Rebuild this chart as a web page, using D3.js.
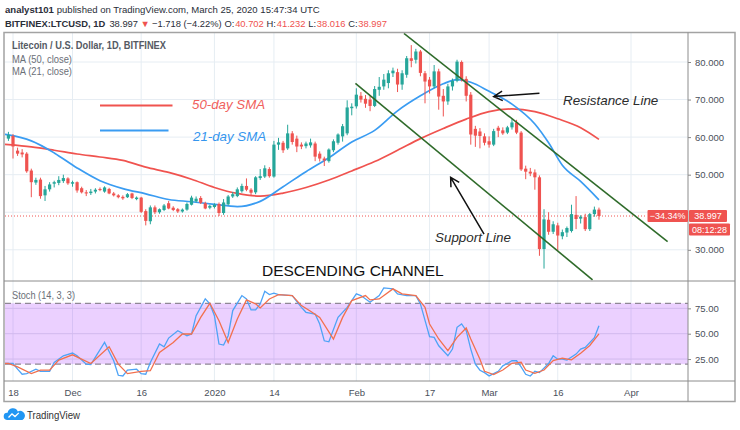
<!DOCTYPE html>
<html><head><meta charset="utf-8">
<script src="https://cdn.jsdelivr.net/npm/d3@7/dist/d3.min.js"></script>
<style>
body{margin:0;background:#fff}
svg{display:block}
text{font-family:"Liberation Sans",Arial,sans-serif}
</style></head>
<body><svg id="chart" width="740" height="430"></svg>
<script>
// ---------------- DATA ----------------
const startDay = Date.UTC(2019, 10, 17); // first candle: 17 Nov 2019, one candle per day
const opens = [59.6,60.3,56.4,55.9,55.6,51.1,47.9,48.7,44.5,46.1,
47.6,47.8,48.3,49.0,47.6,48.0,46.4,45.3,45.1,45.5,
46.2,45.5,46.2,45.0,44.5,44.1,44.0,45.0,43.5,43.9,
40.3,37.6,41.3,40.0,40.6,42.4,41.2,40.8,40.2,40.7,
42.0,42.9,43.8,42.4,41.2,41.4,42.2,39.8,42.1,44.2,
44.3,45.6,47.0,46.0,45.3,49.1,49.5,51.5,49.5,58.0,
58.5,57.0,61.0,59.6,58.0,57.6,57.8,58.3,55.6,54.3,
53.6,56.5,58.5,60.2,61.0,67.7,68.2,71.0,70.2,70.0,
68.3,72.6,73.5,74.4,77.0,77.3,74.0,76.6,81.0,80.6,
82.8,77.0,75.3,73.5,77.5,71.0,69.5,73.5,75.0,80.0,
75.5,71.3,62.2,61.5,60.2,58.9,58.0,62.5,61.8,61.2,
62.6,63.9,61.2,51.6,50.8,50.6,49.3,30.2,38.0,34.8,
36.5,33.6,34.6,35.0,39.3,38.3,38.7,35.5,39.5,40.702];
const highs = [61.4,60.8,57.2,56.8,56.0,51.6,49.2,49.2,47.0,48.0,
48.4,49.6,50.0,49.3,48.4,48.2,46.8,45.9,46.2,46.4,
46.6,46.9,46.5,45.4,44.8,44.5,45.1,45.2,44.2,44.1,
40.8,41.8,41.8,41.0,42.2,43.0,41.6,41.1,41.0,42.6,
44.4,44.2,44.3,42.8,42.0,42.4,42.6,43.5,44.6,45.4,
46.6,47.6,49.0,46.4,49.6,51.5,52.5,52.0,59.0,59.8,
59.0,63.3,61.6,60.4,58.6,58.8,59.6,58.8,56.2,54.8,
57.0,59.4,61.0,63.5,69.8,69.0,73.0,72.0,71.2,71.0,
73.6,76.0,76.8,77.8,78.5,78.2,77.8,81.6,84.5,83.5,
83.2,77.6,76.0,79.2,78.2,72.8,74.2,75.6,80.6,80.4,
76.2,72.0,63.0,62.4,61.0,60.2,62.2,63.0,62.6,63.0,
64.8,64.6,61.6,52.4,51.8,51.4,49.8,40.8,40.0,37.6,
37.2,35.4,36.2,42.0,44.3,39.2,39.6,39.8,41.5,41.232];
const lows = [59.0,54.3,55.0,54.6,50.5,44.0,47.3,43.6,43.0,45.5,
46.6,47.2,47.8,47.3,46.8,45.2,45.0,44.3,44.6,45.0,
45.6,45.2,44.8,44.2,43.7,43.3,43.8,43.5,43.2,39.8,
36.5,36.8,39.5,39.6,40.3,40.8,40.3,39.8,39.9,40.4,
41.8,42.6,42.2,40.8,40.8,41.0,39.0,39.3,41.8,43.8,
44.0,45.2,45.6,44.5,44.8,48.6,49.1,49.2,49.2,56.6,
55.8,56.6,58.0,56.0,56.8,57.0,57.2,53.6,53.5,52.3,
53.2,56.0,58.0,58.8,60.5,65.8,67.6,69.2,67.8,66.9,
68.0,71.0,72.6,73.0,76.0,72.0,72.6,75.8,78.6,79.6,
76.2,69.0,71.6,73.0,67.3,65.5,68.6,72.4,74.6,74.8,
69.5,58.0,57.4,57.0,57.8,57.2,57.6,60.0,60.6,60.8,
62.0,60.8,51.0,48.8,49.6,46.0,28.4,25.0,34.0,34.2,
29.7,32.8,33.4,34.6,35.5,37.0,35.0,35.0,38.8,38.016];
const closes = [60.6,57.5,55.6,55.4,50.9,48.0,48.6,44.3,46.1,47.4,
48.0,48.6,49.1,47.7,48.0,45.8,45.3,45.0,45.5,46.0,
45.9,46.6,45.0,44.5,44.0,43.7,44.8,43.8,43.9,40.1,
37.7,41.3,40.0,40.8,41.8,41.0,40.6,40.2,40.7,42.2,
43.9,43.6,42.5,41.0,41.7,42.0,39.8,42.6,44.2,44.8,
46.1,47.0,46.0,45.2,49.3,49.6,51.7,49.6,58.0,58.6,
56.5,61.0,58.7,57.5,57.5,58.3,58.6,54.8,54.3,53.8,
56.7,58.9,60.7,62.9,67.9,68.1,71.3,70.0,68.9,68.3,
72.8,73.4,75.3,77.0,77.7,74.0,77.0,81.0,80.3,82.8,
77.1,74.8,73.5,77.5,70.8,69.5,73.5,75.0,80.1,75.5,
71.0,60.7,60.4,60.3,58.5,58.0,61.6,61.7,61.0,62.6,
63.9,61.2,51.4,50.8,50.3,49.3,30.2,38.1,34.8,36.8,
33.8,34.7,35.8,39.5,38.2,38.8,35.5,39.5,40.7,38.997];

// moving averages (day offset from first candle, value)
const ma50Days = [-1,0,5,10,15,20,25,30,35,40,45,50,55,60,65,70,75,80,85,90,95,100,105,110,115,120,125,129];
const ma50Vals = [58.1,58.0,57.4,56.5,55.5,54.7,53.8,52.0,50.6,48.8,46.6,45.0,44.3,45.1,46.6,48.6,51.0,53.5,56.5,59.6,62.3,64.8,66.8,67.5,66.8,64.9,62.5,59.4];
const ma21Days = [-1,0,5,10,15,20,25,30,35,40,45,50,55,60,65,70,75,80,85,90,95,98,101,105,110,115,118,121,125,129];
const ma21Vals = [60.8,60.6,59.0,55.8,51.8,48.4,46.3,44.9,43.4,42.8,42.1,41.5,42.9,46.8,50.8,54.5,58.7,61.8,67.0,71.0,74.2,75.3,74.6,72.2,68.8,63.5,58.5,52.5,48.2,43.3];

// stochastic %K and %D
const kDays = [-1,0,1,2,3,4,6,7,9,10,12,14,15,17,18,21,23,24,25,26,28,29,30,31,33,34,35,37,39,40,41,43,44,45,46,47,48,49,51,52,53,54,55,56,57,58,59,62,64,65,67,68,69,70,72,74,76,77,79,81,82,84,85,87,89,90,92,93,94,96,97,98,99,100,101,102,103,104,105,107,108,110,111,112,113,114,115,116,118,119,120,121,122,124,125,126,128,129];
const kVals = [20.6,20.6,20.6,15,10,10.6,15,12.9,12.9,21.6,28.2,30.9,28.2,20,19.6,41.4,23.3,9,8.3,14,15,10.6,10,21.6,39.8,37.1,45.7,53,48,49.7,67.8,84.3,79.4,67.8,39.8,38.8,48,72.8,87.6,84.3,73.4,73.4,79.4,91.9,88.6,89.9,88.6,87.6,76,71.1,69.4,59.6,43,42,66.1,76,89.3,87.6,81,87.6,95.2,94.2,89.3,87.6,87.6,79.4,47,46.4,38.1,28.2,34.8,56.3,59.6,53,34.8,20,14,11.6,8.4,12.9,18.3,23.3,23.3,17.3,10,8.3,12.9,11.6,20.6,28.2,24.9,24.9,23.9,29.9,34.8,36.5,46,57.9];
const dDays = [-1,0,2,5,7,9,11,14,18,22,24,26,29,31,33,36,38,40,42,44,46,48,50,52,54,55,57,59,62,64,66,68,71,73,75,78,79,81,84,86,89,91,92,94,96,98,100,101,103,104,106,108,110,112,113,115,117,119,121,123,125,127,129];
const dVals = [20.6,20.6,17.3,10.6,14,14,23.9,29.2,20.6,37.1,20,10.6,12.9,13.5,31.6,41.4,49.7,49.7,66.1,80,62.8,41.4,64.5,83.3,79.4,75.4,84.3,88.6,87.6,77.7,72.1,66.1,44.7,66.1,82.6,87.6,83.3,84.3,94.2,89.3,87.6,76,59.6,44.8,33.2,46.4,55.6,44.8,24.9,12.9,9.6,14.2,20.8,21.8,14.2,10.9,14.2,23.5,25.8,24.2,30.8,38.4,49.9];

// axis ticks
const priceGrid = [30, 40, 50, 60, 70, 80];
const priceLabels = [30, 50, 60, 70, 80]; // 40 is hidden behind the last-price tag
const stochTicks = [25, 50, 75];
const timeTickDates = ["2019-11-18","2019-12-01","2019-12-16","2020-01-01","2020-01-14","2020-02-01","2020-02-17","2020-03-01","2020-03-16","2020-04-01"];
const timeTickLabels = ["18","Dec","16","2020","14","Feb","17","Mar","16","Apr"];

// drawn annotations, in (day offset, price)
const resistanceLine = [[86.4, 87.6], [144.0, 32.2]];
const supportLine = [[75.8, 74.3], [127.6, 22.0]];
const resistanceArrow = [[116.0, 71.7], [106.0, 70.8]];
const supportArrow = [[103.9, 34.2], [96.6, 49.3]];
const lastPrice = 38.997;

// ---------------- CHART ----------------
const svg = d3.select("#chart");
const GREEN = "#26a69a", RED = "#ef5350";
const L = 5, R = 688, MT = 33, MB = 281, SB = 381;

const x = d3.scaleUtc()
  .domain([new Date(Date.UTC(2019,10,18)), new Date(Date.UTC(2020,3,1))])
  .range([13, 631]);
const xd = d => x(new Date(startDay + d * 864e5));
const y = d3.scaleLinear().domain([30, 80]).range([249.8, 62]);
const ys = d3.scaleLinear().domain([25, 75]).range([359.05, 308.35]);

const defs = svg.append("defs");
defs.append("clipPath").attr("id","cm").append("rect").attr("x",L).attr("y",MT).attr("width",R-L).attr("height",MB-MT);
defs.append("clipPath").attr("id","cs").append("rect").attr("x",L).attr("y",MB).attr("width",R-L).attr("height",SB-MB);

// grid
const grid = svg.append("g");
const tDates = timeTickDates.map(s => new Date(s + "T00:00:00Z"));
grid.selectAll("line.v").data(tDates).join("line")
  .attr("x1", d => x(d)).attr("x2", d => x(d)).attr("y1", MT).attr("y2", SB)
  .attr("stroke", "#e6edf3").attr("stroke-width", 1);
grid.selectAll("line.h").data(priceGrid).join("line")
  .attr("x1", L).attr("x2", R).attr("y1", d => y(d)).attr("y2", d => y(d))
  .attr("stroke", "#e6edf3");
grid.selectAll("line.hs").data(stochTicks).join("line")
  .attr("x1", L).attr("x2", R).attr("y1", d => ys(d)).attr("y2", d => ys(d))
  .attr("stroke", "#dfe3ea");

// stochastic band
const st = svg.append("g").attr("clip-path","url(#cs)");
st.append("rect").attr("x", L).attr("width", R-L).attr("y", ys(80)).attr("height", ys(20)-ys(80))
  .attr("fill", "#9915ff").attr("fill-opacity", 0.2);
[80, 20].forEach(v => st.append("line").attr("x1", L).attr("x2", R).attr("y1", ys(v)).attr("y2", ys(v))
  .attr("stroke", "#8f8796").attr("stroke-width", 1.3).attr("stroke-dasharray", "6,4"));
const sline = d3.line().x(d => xd(d[0])).y(d => ys(d[1]));
st.append("path").datum(kDays.map((d,i)=>[d,kVals[i]])).attr("d", sline)
  .attr("fill","none").attr("stroke","#4ea3f6").attr("stroke-width",1.3);
st.append("path").datum(dDays.map((d,i)=>[d,dVals[i]])).attr("d", sline)
  .attr("fill","none").attr("stroke","#f2704e").attr("stroke-width",1.3);

// main panel
const mp = svg.append("g").attr("clip-path","url(#cm)");
const mline = d3.line().x(d => xd(d[0])).y(d => y(d[1])).curve(d3.curveMonotoneX);
mp.append("path").datum(ma50Days.map((d,i)=>[d,ma50Vals[i]])).attr("d", mline)
  .attr("fill","none").attr("stroke","#f0534f").attr("stroke-width",1.7);
mp.append("path").datum(ma21Days.map((d,i)=>[d,ma21Vals[i]])).attr("d", mline)
  .attr("fill","none").attr("stroke","#3a9cf2").attr("stroke-width",1.7);

// last price dotted line
mp.append("line").attr("x1", L).attr("x2", 647).attr("y1", y(lastPrice)).attr("y2", y(lastPrice))
  .attr("stroke", RED).attr("stroke-width", 1).attr("stroke-dasharray", "1,2");

const idx = d3.range(opens.length);
const col = i => closes[i] >= opens[i] ? GREEN : RED;
mp.selectAll("line.wick").data(idx).join("line")
  .attr("x1", i => xd(i)).attr("x2", i => xd(i))
  .attr("y1", i => y(highs[i])).attr("y2", i => y(lows[i]))
  .attr("stroke", col).attr("stroke-width", 1);
mp.selectAll("rect.body").data(idx).join("rect")
  .attr("x", i => xd(i) - 1.6).attr("width", 3.2)
  .attr("y", i => y(Math.max(opens[i], closes[i])))
  .attr("height", i => Math.max(1, Math.abs(y(opens[i]) - y(closes[i]))))
  .attr("fill", col);

// channel lines
const pl = d3.line().x(d => xd(d[0])).y(d => y(d[1]));
[resistanceLine, supportLine].forEach(pts => mp.append("path").attr("d", pl(pts))
  .attr("stroke", "#2f6b2a").attr("stroke-width", 1.6).attr("fill", "none"));

// arrows
function arrow(pts) {
  const [x1, y1] = [xd(pts[0][0]), y(pts[0][1])];
  const [x2, y2] = [xd(pts[1][0]), y(pts[1][1])];
  const a = Math.atan2(y2 - y1, x2 - x1);
  const h = 10, s = 0.5;
  const p = d3.path();
  p.moveTo(x1, y1); p.lineTo(x2, y2);
  p.moveTo(x2 - h * Math.cos(a - s), y2 - h * Math.sin(a - s));
  p.lineTo(x2, y2);
  p.lineTo(x2 - h * Math.cos(a + s), y2 - h * Math.sin(a + s));
  mp.append("path").attr("d", p.toString()).attr("fill","none").attr("stroke","#111").attr("stroke-width",1.5);
}
arrow(resistanceArrow); arrow(supportArrow);

// annotation texts
svg.append("text").attr("x", 563).attr("y", 105).text("Resistance Line")
  .attr("font-size", 13.4).attr("font-style","italic").attr("fill","#2b2b2b");
svg.append("text").attr("x", 435).attr("y", 242).text("Support Line")
  .attr("font-size", 13.4).attr("font-style","italic").attr("fill","#2b2b2b");
svg.append("text").attr("x", 262).attr("y", 276).text("DESCENDING CHANNEL")
  .attr("font-size", 15.5).attr("fill","#111");

// SMA legend
svg.append("line").attr("x1",100).attr("x2",172.5).attr("y1",105.5).attr("y2",105.5).attr("stroke","#f0534f").attr("stroke-width",1.8);
svg.append("line").attr("x1",100).attr("x2",168.5).attr("y1",130.5).attr("y2",130.5).attr("stroke","#3a9cf2").attr("stroke-width",1.8);
svg.append("text").attr("x",192).attr("y",109).text("50-day SMA").attr("font-size",13.3).attr("font-style","italic").attr("fill","#f0605c");
svg.append("text").attr("x",193).attr("y",140.5).text("21-day SMA").attr("font-size",13.3).attr("font-style","italic").attr("fill","#3596ee");

// axes
const axP = svg.append("g").attr("transform", `translate(${R},0)`)
  .call(d3.axisRight(y).tickValues(priceLabels).tickFormat(d3.format(".3f")).tickSize(3).tickPadding(4));
const axS = svg.append("g").attr("transform", `translate(${R},0)`)
  .call(d3.axisRight(ys).tickValues(stochTicks).tickFormat(d3.format(".2f")).tickSize(3).tickPadding(4));
const axT = svg.append("g").attr("transform", `translate(0,${SB})`)
  .call(d3.axisBottom(x).tickValues(tDates).tickFormat((d,i) => timeTickLabels[i]).tickSize(0).tickPadding(8));
[axP, axS, axT].forEach(a => {
  a.select(".domain").remove();
  a.selectAll(".tick line").attr("stroke", "#8a8a8a");
  a.selectAll("text").attr("fill", "#4a4f5a").attr("font-size", 9.5)
    .attr("font-family", '"Liberation Sans",Arial,sans-serif');
});

// frame
const fr = svg.append("g").attr("fill","none");
fr.append("rect").attr("x",4).attr("y",32.5).attr("width",731).attr("height",369).attr("stroke","#a3a3a3").attr("stroke-width",1.5);
fr.append("line").attr("x1",R).attr("x2",R).attr("y1",32.5).attr("y2",401.5).attr("stroke","#8c8c8c");
fr.append("line").attr("x1",4).attr("x2",735).attr("y1",MB).attr("y2",MB).attr("stroke","#8c8c8c");
fr.append("line").attr("x1",4).attr("x2",735).attr("y1",SB).attr("y2",SB).attr("stroke","#8c8c8c");

// price label boxes
const yl = y(lastPrice);
svg.append("rect").attr("x",647.5).attr("y",yl-6).attr("width",40.5).attr("height",12).attr("rx",1).attr("fill",RED);
svg.append("rect").attr("x",689).attr("y",yl-6).attr("width",38).attr("height",12).attr("rx",1).attr("fill",RED);
svg.append("rect").attr("x",689).attr("y",yl+7.5).attr("width",41).attr("height",12).attr("rx",1).attr("fill",RED);
const bt = (tx, xx, yy) => svg.append("text").attr("x",xx).attr("y",yy).text(tx)
  .attr("fill","#fff").attr("font-size",9).attr("text-anchor","middle");
bt("\u221234.34%", 667.7, yl+3.3);
bt("38.997", 708, yl+3.3);
bt("08:12:28", 709.5, yl+16.8);

// header lines: separate texts chained by measured width, shrunk to fit the reference width
function chain(parts, x0, yb, target, size) {
  const fam = '"Liberation Sans Narrow","Liberation Sans",Arial,sans-serif';
  const els = parts.map(p => svg.append("text").attr("y", yb).attr("font-family", fam)
    .attr("fill", p.fill || "#2a2e39").attr("font-weight", p.bold ? "bold" : "normal").text(p.t));
  let fs = size;
  const lay = () => {
    let cx = x0;
    els.forEach((e, i) => {
      e.attr("font-size", fs).attr("x", cx);
      cx += e.node().getComputedTextLength() + (parts[i].gap || 0) * fs;
    });
    return cx - x0;
  };
  const w = lay();
  if (w > target) { fs = fs * target / w; lay(); }
}
chain([{t:"analyst101", bold:true, gap:0.3},
       {t:"published on TradingView.com, March 25, 2020 15:47:34 UTC"}], 5, 13, 315, 11.5);
chain([{t:"BITFINEX:LTCUSD, 1D", bold:true, gap:0.45},
       {t:"38.997", gap:0.25},
       {t:"\u25BC", fill:RED, gap:0.25},
       {t:"\u22121.718 (\u22124.22%)", gap:0.3},
       {t:"O:", gap:0.08}, {t:"40.702", fill:RED, gap:0.3},
       {t:"H:", gap:0.08}, {t:"41.232", fill:RED, gap:0.3},
       {t:"L:", gap:0.08}, {t:"38.016", fill:RED, gap:0.3},
       {t:"C:", gap:0.08}, {t:"38.997", fill:RED}], 5, 26.5, 382, 11.5);

const hdr = (tx, xx, yy, tl, opt = {}) => svg.append("text").attr("x",xx).attr("y",yy).text(tx)
  .attr("font-size", opt.size || 12).attr("font-weight", opt.bold ? "bold" : "normal")
  .attr("fill", opt.fill || "#2a2e39").attr("textLength", tl).attr("lengthAdjust","spacingAndGlyphs");

// panel titles
hdr("Litecoin / U.S. Dollar, 1D, BITFINEX", 12, 49, 154, {size:11, bold:true, fill:"#555a63"});
hdr("MA (50, close)", 12, 62.5, 60, {size:11, fill:"#6b6f77"});
hdr("MA (21, close)", 12, 75, 60, {size:11, fill:"#6b6f77"});
hdr("Stoch (14, 3, 3)", 12, 298.5, 63, {size:11, fill:"#6b6f77"});

// TradingView logo
svg.append("path").attr("d","M7,420 a3.6,3.6 0 0 1 0.6,-7.2 a5.4,5.4 0 0 1 10.2,-1.4 a4.3,4.3 0 0 1 4.6,8.6 z").attr("fill","#2196f3");
svg.append("path").attr("d","M8.5,417.5 l3.5,-3.6 l3,2.6 l3.8,-3.6").attr("fill","none").attr("stroke","#fff").attr("stroke-width",1.3);
hdr("TradingView", 27, 419, 53, {size:11.5, fill:"#333"});
</script></body></html>
